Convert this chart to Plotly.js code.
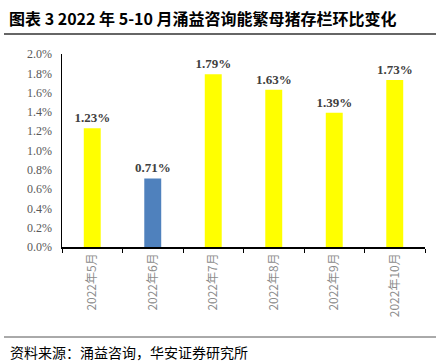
<!DOCTYPE html>
<html><head><meta charset="utf-8">
<script src="https://cdn.plot.ly/plotly-3.0.1.min.js"></script>
<style>body{margin:0;padding:0;background:#fff}</style>
</head><body>
<div id="chart" style="width:442px;height:364px"></div>
<script>
var categories = ["2022年5月","2022年6月","2022年7月","2022年8月","2022年9月","2022年10月"];
var values = [0.0123, 0.0071, 0.0179, 0.0163, 0.0139, 0.0173];
var labels = ["1.23%","0.71%","1.79%","1.63%","1.39%","1.73%"];
var barColors = ["#FFFF00","#4F81BD","#FFFF00","#FFFF00","#FFFF00","#FFFF00"];
var titleText = "图表 3 2022 年 5-10 月涌益咨询能繁母猪存栏环比变化";
var sourceText = "资料来源：涌益咨询，华安证券研究所";

var L=62, R=17, T=54, B=117, W=442, H=364;
var pw=W-L-R, ph=H-T-B;
function px(x){return (x-L)/pw;}
function py(y){return (H-B-y)/ph;}

var trace = {
  type:'bar', x:categories, y:values, text:labels, textposition:'outside',
  constraintext:'none',
  marker:{color:barColors},
  textfont:{family:'Liberation Serif, Times New Roman, serif', size:13, color:'#404040', weight:'bold'},
  cliponaxis:false, hoverinfo:'none'
};
var layout = {
  width:W, height:H, margin:{l:L,r:R,t:T,b:B},
  paper_bgcolor:'#fff', plot_bgcolor:'#fff',
  showlegend:false, bargap:0.72,
  xaxis:{showline:true, linecolor:'#000', linewidth:1.5, ticks:'outside', tickson:'boundaries',
    ticklen:4, tickcolor:'#000', tickangle:-90,
    tickfont:{family:'Noto Sans CJK SC, sans-serif', size:12, color:'#8c8c8c'}},
  yaxis:{range:[0,0.02], dtick:0.002, tickformat:'.1%', showgrid:false, zeroline:false,
    showline:true, linecolor:'#000', linewidth:1.5, ticks:'', ticklabelstandoff:6,
    tickfont:{family:'Liberation Serif, Times New Roman, serif', size:12, color:'#595959'}},
  shapes:[
    {type:'line', xref:'paper', yref:'paper', x0:px(4), x1:px(436), y0:py(34), y1:py(34), line:{color:'#333', width:1.5}},
    {type:'line', xref:'paper', yref:'paper', x0:px(4), x1:px(436), y0:py(337), y1:py(337), line:{color:'#555', width:1}}
  ],
  annotations:[
    {xref:'paper', yref:'paper', x:px(7), y:py(18), xanchor:'left', yanchor:'middle', showarrow:false,
     text:titleText, font:{family:'Noto Sans CJK SC, sans-serif', size:16, color:'#000', weight:'bold'}},
    {xref:'paper', yref:'paper', x:px(8), y:py(352), xanchor:'left', yanchor:'middle', showarrow:false,
     text:sourceText, font:{family:'Noto Sans CJK SC, sans-serif', size:14, color:'#000'}}
  ]
};
Plotly.newPlot('chart',[trace],layout,{displayModeBar:false, staticPlot:true});
</script>
</body></html>
